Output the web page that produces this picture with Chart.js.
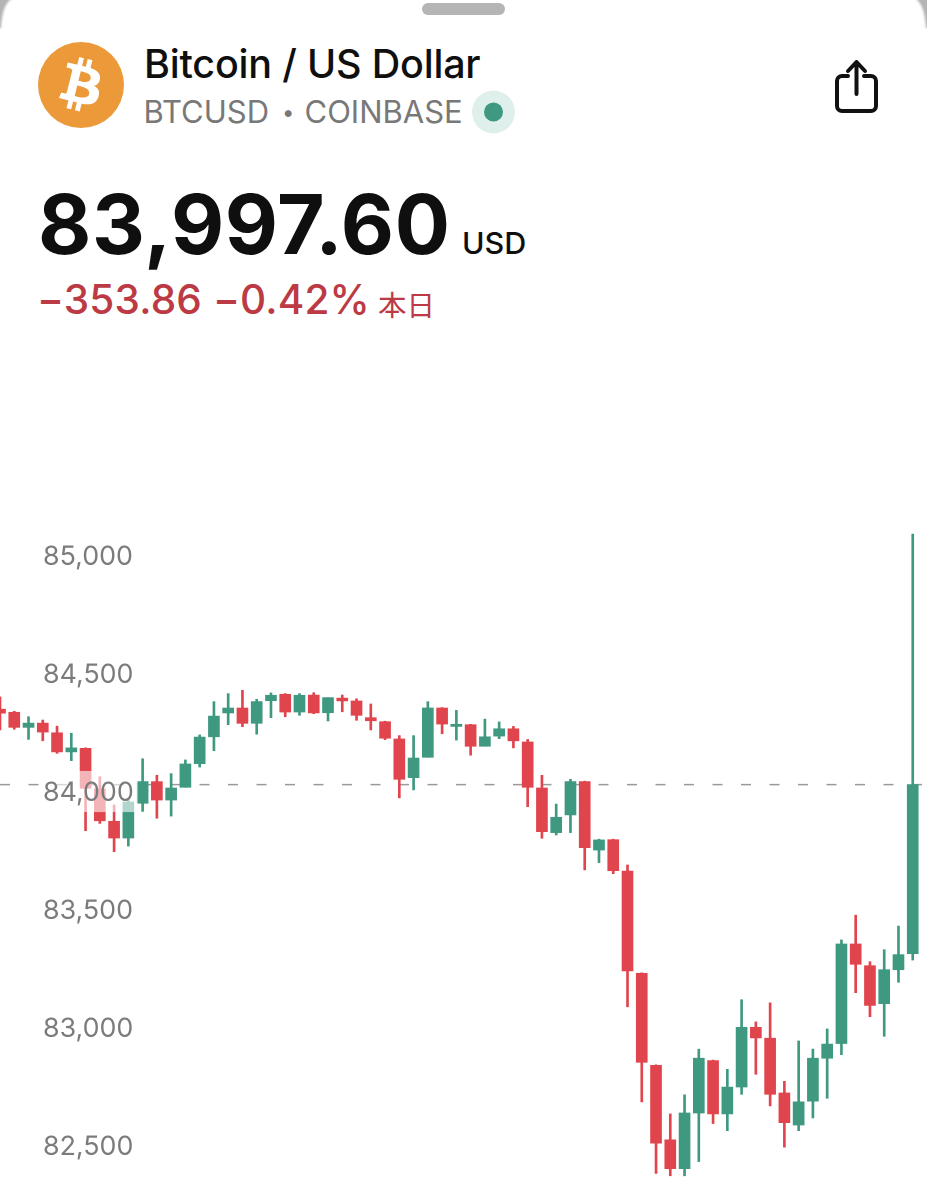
<!DOCTYPE html>
<html lang="ja">
<head>
<meta charset="utf-8">
<title>Bitcoin / US Dollar</title>
<script src="https://cdn.jsdelivr.net/npm/chart.js@4"></script>
<style>
html,body{margin:0;padding:0;background:#fff;}
#page{position:relative;width:927px;height:1200px;overflow:hidden;background:#fff;font-family:Inter,"Noto Sans",sans-serif;}
.t{position:absolute;white-space:nowrap;line-height:1;}
#grab{position:absolute;left:422px;top:3px;width:83px;height:12px;border-radius:6px;background:#b5b5b5;}
#chartWrap{position:absolute;left:0;top:489px;width:927px;height:708px;}
</style>
</head>
<body>
<div id="page">
  <svg style="position:absolute;left:0;top:0" width="927" height="40" viewBox="0 0 927 40">
    <defs><filter id="soft" x="-30%" y="-30%" width="160%" height="160%"><feGaussianBlur stdDeviation="1.2"/></filter></defs>
    <g filter="url(#soft)" fill="#b4b4b4">
      <path d="M-3-3H13C5 3 2 12 1 28L-3 28Z"/>
      <path d="M930-3H914C922 3 925 12 926 28L930 28Z"/>
    </g>
  </svg>
  <div id="grab"></div>
  <svg style="position:absolute;left:38px;top:42px" width="86" height="86" viewBox="0 0 86 86">
    <circle cx="43" cy="43" r="43" fill="#ec993a"/>
    <g transform="scale(1.344)"><path fill="#fff" d="M46.103 27.444c.637-4.258-2.605-6.547-7.038-8.074l1.438-5.768-3.511-.875-1.4 5.616c-.923-.23-1.871-.447-2.813-.662l1.41-5.653-3.509-.875-1.439 5.766c-.764-.174-1.514-.346-2.242-.527l.004-.018-4.842-1.209-.934 3.75s2.605.597 2.55.634c1.422.355 1.679 1.296 1.636 2.042l-1.638 6.571c.098.025.225.061.365.117l-.371-.092-2.296 9.205c-.174.432-.615 1.08-1.609.834.035.051-2.552-.637-2.552-.637l-1.743 4.019 4.569 1.139c.85.213 1.683.436 2.503.646l-1.453 5.834 3.507.875 1.439-5.772c.958.26 1.888.5 2.798.726l-1.434 5.745 3.511.875 1.453-5.823c5.987 1.133 10.489.676 12.384-4.739 1.527-4.36-.076-6.875-3.226-8.515 2.294-.529 4.022-2.038 4.483-5.155zm-8.022 11.249c-1.085 4.36-8.426 2.003-10.806 1.412l1.928-7.729c2.38.594 10.012 1.77 8.878 6.317zm1.086-11.312c-.99 3.966-7.1 1.951-9.082 1.457l1.748-7.008c1.982.494 8.365 1.416 7.334 5.551z"/></g>
  </svg>
  <div class="t" style="left:144px;top:45px;font-size:39.500px;font-weight:500;color:#0f0f0f;letter-spacing:-0.2px">Bitcoin / US Dollar</div>
  <div class="t" style="left:143.500px;top:96px;font-size:31px;font-weight:400;color:#787878;">BTCUSD</div>
  <div class="t" style="left:282px;top:101px;font-size:22px;font-weight:400;color:#787878;">•</div>
  <div class="t" style="left:304.500px;top:96px;font-size:31px;font-weight:400;color:#787878;">COINBASE</div>
  <svg style="position:absolute;left:472px;top:90px" width="44" height="44" viewBox="0 0 44 44">
    <circle cx="21.500" cy="22" r="21.500" fill="#dff0ec"/><circle cx="21.500" cy="22" r="9.500" fill="#3f9880"/>
  </svg>
  <svg style="position:absolute;left:830px;top:56px" width="52" height="60" viewBox="0 0 52 60" fill="none" stroke="#111" stroke-width="4" stroke-linecap="round" stroke-linejoin="round">
    <path d="M18 20H12a5 5 0 0 0-5 5V50a5 5 0 0 0 5 5H41a5 5 0 0 0 5-5V25a5 5 0 0 0-5-5H34"/>
    <path d="M26.500 38V6M18 15l8.500-9 8.500 9"/>
  </svg>
  <div class="t" style="left:38px;top:184px;font-size:82px;font-weight:700;color:#0f0f0f;letter-spacing:0.65px">83,997.60</div>
  <div class="t" style="left:462px;top:228px;font-size:30.500px;font-weight:500;color:#0f0f0f;">USD</div>
  <div class="t" style="left:37px;top:280px;font-size:40.500px;font-weight:500;color:#bb3a44;letter-spacing:0.15px">−353.86 −0.42%</div>
  <div class="t" style="left:378px;top:290px;font-size:28.500px;font-weight:400;color:#bb3a44;font-family:'Noto Sans CJK JP',sans-serif;">本日</div>
  <div id="chartWrap"><canvas id="c" width="927" height="708" style="display:block;width:927px;height:708px"></canvas></div>
</div>
<script>
const tickValues = [82500, 83000, 83500, 84000, 84500, 85000];
const lastPrice = 83997.6;
const opens = [84317,84304,84240,84258,84217,84136,84151,83979,83842,83771,83918,84010,83932,83986,84086,84200,84301,84322,84257,84353,84380,84305,84377,84302,84364,84352,84281,84264,84191,84027,84113,84322,84244,84251,84160,84203,84234,84178,83983,83794,83869,84010,83720,83764,83631,83198,82808,82492,82370,82606,82828,82602,82716,82969,82923,82691,82555,82656,82838,82900,83322,83230,83069,83213,83281];
const closes = [84300,84240,84258,84220,84136,84153,83982,83844,83771,83924,84010,83932,83983,84085,84199,84288,84322,84257,84349,84376,84305,84376,84301,84366,84352,84291,84268,84194,84020,84110,84322,84254,84253,84160,84200,84234,84183,83986,83798,83859,84010,83730,83763,83633,83208,82821,82478,82370,82606,82838,82602,82716,82969,82924,82685,82565,82653,82838,82898,83322,83236,83062,83213,83277,83997.6];
const highs = [84369,84308,84285,84271,84245,84215,84153,84031,83911,83930,84107,84037,84044,84102,84208,84349,84383,84397,84359,84386,84383,84383,84387,84366,84377,84361,84339,84266,84205,84205,84349,84324,84312,84253,84275,84263,84244,84189,84037,83915,84020,84012,83766,83766,83657,83200,82810,82602,82683,82876,82830,82791,83086,82992,83073,82740,82911,82877,82962,83339,83444,83247,83298,83398,85059];
const lows = [84229,84232,84189,84183,84130,84099,83802,83833,83713,83737,83884,83855,83864,83986,84072,84141,84251,84243,84211,84281,84285,84291,84298,84267,84306,84270,84229,84188,83941,83975,84113,84213,84186,84122,84160,84192,84153,83904,83770,83784,83794,83636,83667,83620,83056,82653,82350,82340,82340,82400,82561,82531,82685,82770,82636,82461,82531,82585,82668,82853,83116,83014,82931,83160,83254];
const categories = [...opens.map((_, i) => String(i)), ''];

const RED = '#e0444c', GREEN = '#3f9880';
const colors = opens.map((o, i) => closes[i] >= o ? GREEN : RED);

new Chart(document.getElementById('c'), {
  data: {
    labels: categories,
    datasets: [
      { type: 'line', label: 'last', data: categories.map(() => lastPrice), borderColor: '#9a9a9a', borderWidth: 1.5,
        borderDash: [10, 18.500], pointRadius: 0, fill: false, order: 3, tension: 0 },
      { type: 'bar', label: 'wick', data: lows.map((l, i) => [l, highs[i]]), backgroundColor: colors, barThickness: 2, grouped: false, borderSkipped: false, borderWidth: 0, order: 2 },
      { type: 'bar', label: 'body', data: opens.map((o, i) => [o, closes[i]]), backgroundColor: colors, barThickness: 11, grouped: false, borderSkipped: false, borderWidth: 0, order: 1 }
    ]
  },
  options: {
    responsive: false,
    animation: false,
    devicePixelRatio: 2,
    layout: { padding: 0 },
    plugins: { legend: { display: false }, tooltip: { enabled: false } },
    scales: {
      x: { type: 'category', offset: false, display: false, grid: { display: false } },
      y: {
        position: 'left', min: 82250, max: 85250,
        grid: { display: false, drawTicks: false }, border: { display: false },
        afterBuildTicks: s => { s.ticks = tickValues.map(v => ({ value: v })); },
        afterFit: s => { s.width = 0; s.paddingTop = 0; s.paddingBottom = 0; },
        ticks: {
          mirror: true, padding: 43, labelOffset: 9, z: 1,
          color: '#7b7b7b', font: { family: 'Inter', size: 26.800, weight: '400' },
          callback: v => Number(v).toLocaleString('en-US'),
          showLabelBackdrop: true, backdropColor: 'rgba(255,255,255,0.6)',
          backdropPadding: { top: 6, bottom: 3, left: 4, right: 4 }
        }
      }
    }
  }
});
</script>
</body>
</html>
